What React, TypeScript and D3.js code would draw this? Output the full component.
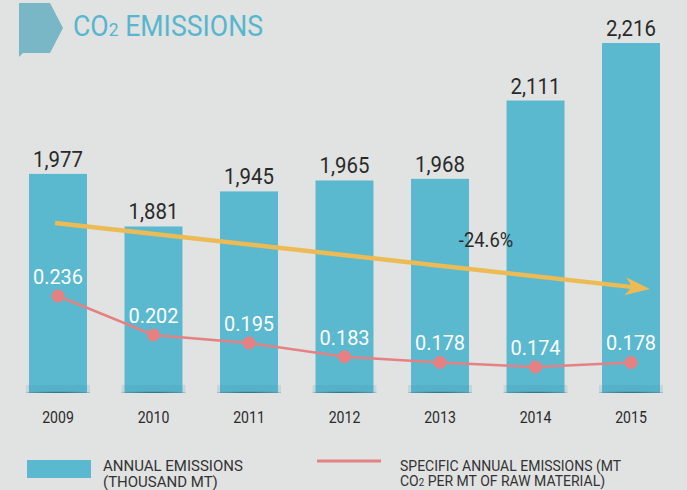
import * as d3 from "d3";

const years = ["2009", "2010", "2011", "2012", "2013", "2014", "2015"];
const annualEmissions = [1977, 1881, 1945, 1965, 1968, 2111, 2216];
const specificEmissions = [0.236, 0.202, 0.195, 0.183, 0.178, 0.174, 0.178];
const trendLabel = "-24.6%";

const W = 687;
const H = 490;
const BAR = "#5ab8cf";
const RED = "#e58183";
const GOLD = "#ecbb55";
const INK = "#2a2a2a";
const FONT = "Roboto, 'DejaVu Sans', sans-serif";

export default function App() {
  const x = d3.scaleBand<string>().domain(years).range([29, 660]).paddingInner(0.393).paddingOuter(0);
  const yBar = d3.scaleLinear().domain([1577, 2216]).range([393, 43]);
  const yRed = d3.scaleLinear().domain([0.174, 0.236]).range([367, 296]);
  const bw = x.bandwidth();
  const cx = (yr: string) => (x(yr) ?? 0) + bw / 2;

  const line = d3
    .line<number>()
    .x((_, i) => cx(years[i]))
    .y((d) => yRed(d));

  // trend arrow, anchored to the first and last category
  const ax0 = cx(years[0]) - 3;
  const ax1 = cx(years[years.length - 1]) + 19;
  const ay0 = 223;
  const ay1 = 289;
  const ang = Math.atan2(ay1 - ay0, ax1 - ax0);
  const headLen = 25;
  const headHalf = 9;
  const pt = (along: number, side: number) => {
    const px = ax1 + Math.cos(ang) * along - Math.sin(ang) * side;
    const py = ay1 + Math.sin(ang) * along + Math.cos(ang) * side;
    return `${px},${py}`;
  };
  const head = [pt(0, 0), pt(-headLen, -headHalf), pt(-headLen + 7, 0), pt(-headLen, headHalf)].join(" ");
  const shaftEnd = pt(-headLen + 8, 0).split(",").map(Number);

  const fmtInt = d3.format(",");
  const fmt3 = d3.format(".3f");

  return (
    <svg
      width={W}
      height={H}
      style={{ position: "absolute", left: 0, top: 0, display: "block" }}
      fontFamily={FONT}
    >
      <defs>
        <radialGradient id="shadow" cx="0.5" cy="1" r="0.7" gradientTransform="translate(0.5,1) scale(1,0.35) translate(-0.5,-1)">
          <stop offset="0" stopColor="#23505c" stopOpacity={0.95} />
          <stop offset="1" stopColor="#3c8aa0" stopOpacity={0.15} />
        </radialGradient>
      </defs>
      <rect width={W} height={H} fill="#e1e2e2" />

      {/* title */}
      <polygon points="19,3 50,3 63,28 50,53 23,53 19,57" fill="#7ab7c6" />
      <g transform="translate(73,36) scale(0.92,1)">
        <text fill="#56b6ce" fontSize={29}>
          CO<tspan fontSize={19}>2</tspan> EMISSIONS
        </text>
      </g>

      {/* bars */}
      {years.map((yr, i) => (
        <g key={yr}>
          <rect x={x(yr)} y={yBar(annualEmissions[i])} width={bw} height={393 - yBar(annualEmissions[i])} fill={BAR} />
          <rect x={(x(yr) ?? 0) - 3} y={385} width={bw + 6} height={8} fill="url(#shadow)" />
          <g transform={`translate(${cx(yr)},${yBar(annualEmissions[i]) - 7}) scale(0.95,1)`}>
            <text textAnchor="middle" fill={INK} fontSize={21.5}>
              {fmtInt(annualEmissions[i])}
            </text>
          </g>
          <g transform={`translate(${cx(yr)},423) scale(0.88,1)`}>
            <text textAnchor="middle" fill={INK} fontSize={16}>
              {yr}
            </text>
          </g>
        </g>
      ))}

      {/* trend arrow */}
      <line x1={ax0} y1={ay0} x2={shaftEnd[0]} y2={shaftEnd[1]} stroke={GOLD} strokeWidth={4.5} />
      <polygon points={head} fill={GOLD} />
      <g transform="translate(486,247) scale(0.92,1)">
        <text textAnchor="middle" fill={INK} fontSize={20}>
          {trendLabel}
        </text>
      </g>

      {/* specific emissions line */}
      <path d={line(specificEmissions) ?? ""} fill="none" stroke={RED} strokeWidth={2.5} />
      {specificEmissions.map((v, i) => (
        <g key={years[i]}>
          <circle cx={cx(years[i])} cy={yRed(v)} r={6.5} fill={RED} />
          <g transform={`translate(${cx(years[i])},${yRed(v) - 12}) scale(0.95,1)`}>
            <text textAnchor="middle" fill="#ffffff" fontSize={21}>
              {fmt3(v)}
            </text>
          </g>
        </g>
      ))}

      {/* legend */}
      <rect x={27} y={460} width={64} height={18} fill={BAR} />
      <g transform="translate(103,471) scale(1,1)" fill="#333" fontSize={15}>
        <text>ANNUAL EMISSIONS</text>
        <text y={15.5}>(THOUSAND MT)</text>
      </g>
      <line x1={317} x2={381} y1={461} y2={461} stroke={RED} strokeWidth={3} />
      <g transform="translate(400,471) scale(0.933,1)" fill="#333" fontSize={15}>
        <text>SPECIFIC ANNUAL EMISSIONS (MT</text>
        <text y={15.5}>
          CO<tspan fontSize={10.5}>2</tspan> PER MT OF RAW MATERIAL)
        </text>
      </g>
    </svg>
  );
}
